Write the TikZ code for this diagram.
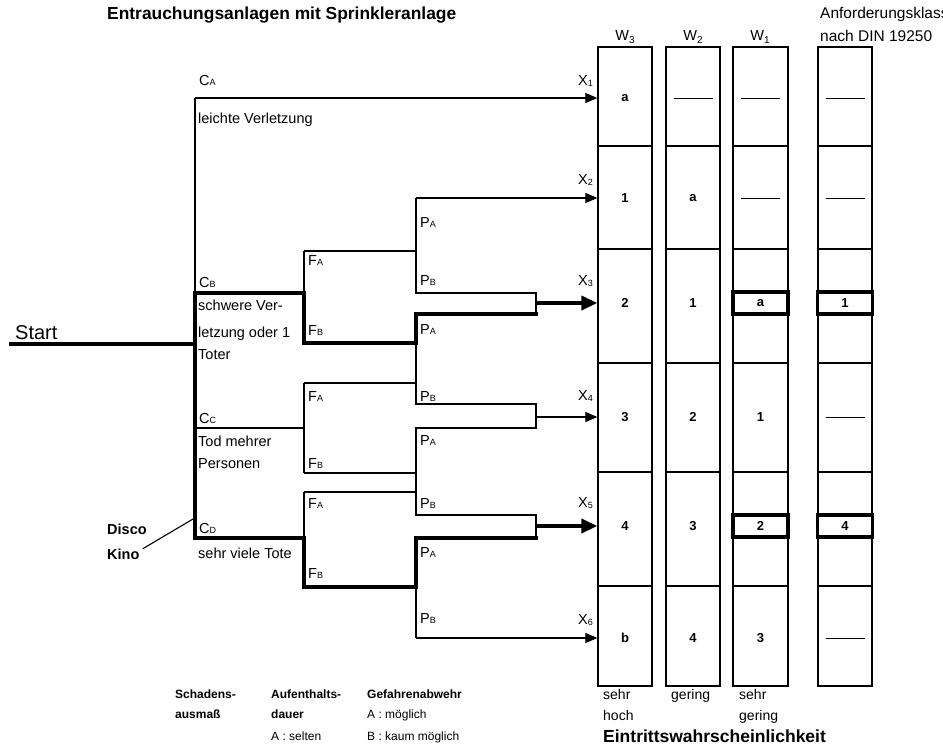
\documentclass[tikz,border=0pt]{standalone}
\usepackage{fontspec}
\setmainfont{Liberation Sans}
\usetikzlibrary{arrows.meta, calc}

\newcommand{\ix}[1]{{\fontsize{9}{9}\selectfont #1}}
\newcommand{\dx}[1]{\raisebox{-1.5pt}{\fontsize{9}{9}\selectfont #1}}
\newcommand{\wx}[1]{\raisebox{-3pt}{\fontsize{10}{10}\selectfont #1}}
\newcommand{\nix}{\rule{39pt}{1pt}}

\tikzset{
  lbl/.style={anchor=base west, inner sep=0pt, font=\fontsize{14.5}{17}\selectfont},
  bl/.style={anchor=base west, inner sep=0pt, font=\fontsize{12}{14}\selectfont\bfseries},
  sm/.style={anchor=base west, inner sep=0pt, font=\fontsize{12}{14}\selectfont},
  val/.style={inner sep=0pt, font=\fontsize{13}{15}\selectfont\bfseries},
  hl/.style={draw, line width=3.4pt, inner sep=0pt, minimum width=55pt, minimum height=22pt,
    font=\fontsize{13}{15}\selectfont\bfseries},
  frame/.style={draw, line width=1.3pt, inner sep=0pt, minimum width=54pt, minimum height=639pt},
  ln/.style={line width=1.1pt},
  fat/.style={line width=3.6pt, line cap=rect},
  tip/.style={ln, -{Triangle[length=12pt,width=10pt]}},
  fattip/.style={line width=3.6pt, -{Triangle[length=16pt,width=14pt]}},
}

\begin{document}
\begin{tikzpicture}[x=1pt, y=-1pt]
\useasboundingbox (0,0) rectangle (943,748);
\fill[white] (0,0) rectangle (943,748);

% columns W3 W2 W1 and Anforderungsklasse
\node[frame] (w3) at (625,366.5) {};
\node[frame] (w2) at (693,366.5) {};
\node[frame, minimum width=55pt] (w1) at (760.5,366.5) {};
\node[frame] (ak) at (845,366.5) {};
\foreach \y in {146,249,363,472,586}
  \foreach \c in {w3,w2,w1,ak}
    \draw[ln] (\c.west |- 0,\y) -- (\c.east |- 0,\y);

\foreach \y/\a/\b/\c/\d/\s [count=\r] in {98/a/\nix/\nix/\nix/val, 198/1/a/\nix/\nix/val,
    303/2/1/a/1/hl, 417/3/2/1/\nix/val, 526/4/3/2/4/hl, 638/b/4/3/\nix/val} {
  \node[val] (v\r-3) at (625,\y) {\a};
  \node[val] (v\r-2) at (693,\y) {\b};
  \node[\s] (v\r-1) at (760.5,\y) {\c};
  \node[\s] (v\r-k) at (845,\y) {\d};
}

\node[lbl, anchor=base] (hw3) at (625,40) {W\wx{3}};
\node[lbl, anchor=base] (hw2) at (693,40) {W\wx{2}};
\node[lbl, anchor=base] (hw1) at (760,40) {W\wx{1}};
\node[lbl, font=\fontsize{15.5}{18}\selectfont] (hak1) at (820,18) {Anforderungsklasse};
\node[lbl, font=\fontsize{15.5}{18}\selectfont] (hak2) at (820,41) {nach DIN 19250};

% branch points of the tree
\coordinate (start) at (11,344);
\coordinate (root) at (195,344);
\coordinate (cA) at (195,98);
\coordinate (cB) at (195,293);
\coordinate (cC) at (195,428);
\coordinate (cD) at (195,538);
\coordinate (fA1) at (304,251);
\coordinate (fB1) at (304,343);
\coordinate (fA2) at (304,383);
\coordinate (fB2) at (304,473);
\coordinate (fA3) at (304,492);
\coordinate (fB3) at (304,587);
\coordinate (pA1) at (416,198);
\coordinate (pB1) at (416,293);
\coordinate (pA2) at (416,314);
\coordinate (pB2) at (416,404);
\coordinate (pA3) at (416,428);
\coordinate (pB3) at (416,515);
\coordinate (pA4) at (416,538);
\coordinate (pB4) at (416,638);
\coordinate (j3) at (536,303);
\coordinate (j4) at (536,417);
\coordinate (j5) at (536,526);
\coordinate (ptr) at (193,519);

\draw[fat] (start) -- (root);
\draw[ln] (cA) -- (cB);
\draw[tip] (cA) -- (cA -| w3.west);
\draw[ln] (fA1) -- (fA1 |- cB);
\draw[ln] (fA1) -- (fA1 -| pA1);
\draw[ln] (pA1) -- (pB1) -| (j3) -- (j3 |- pA2);
\draw[tip] (pA1) -- (pA1 -| w3.west);
\draw[ln] (pA2 |- fB1) -- (pB2) -| (j4) -- (j4 |- pA3) -- (pA3) -- (pB3) -| (j5) -- (j5 |- pA4);
\draw[ln] (cC) -- (cC -| fA2);
\draw[ln] (fA2) -- (fB2);
\draw[ln] (fA2) -- (fA2 -| pA1);
\draw[ln] (fB2) -- (fB2 -| pA1);
\draw[ln] (fA3) -- (fA3 |- cD);
\draw[ln] (fA3) -- (fA3 -| pA1);
\draw[ln] (pB4 |- fB3) -- (pB4);
\draw[fat] (pA2 -| j3) -- (pA2) |- (fB1) |- (cB) -- (cD) -| (fB3) -| (pA4) -- (pA4 -| j5);
\draw[fattip] (j3) -- (j3 -| w3.west);
\draw[tip] (j4) -- (j4 -| w3.west);
\draw[fattip] (j5) -- (j5 -| w3.west);
\draw[tip] (pB4) -- (pB4 -| w3.west);

% labels
\node[lbl, font=\fontsize{17.4}{20}\selectfont\bfseries] (title) at (107,19) {Entrauchungsanlagen mit Sprinkleranlage};
\node[lbl, font=\fontsize{20}{24}\selectfont] (st) at (15,339) {Start};
\node[lbl] (ca) at (199,85) {C\ix{A}};
\node[lbl] (cal) at (198,123) {leichte Verletzung};
\node[lbl] (cb) at (199,287) {C\ix{B}};
\node[lbl] (cbl1) at (198,310) {schwere Ver-};
\node[lbl] (cbl2) at (198,337) {letzung oder 1};
\node[lbl] (cbl3) at (198,359) {Toter};
\node[lbl] (cc) at (199,423) {C\ix{C}};
\node[lbl] (ccl1) at (198,446) {Tod mehrer};
\node[lbl] (ccl2) at (198,468) {Personen};
\node[lbl] (cd) at (199,533) {C\ix{D}};
\node[lbl] (cdl) at (198,558) {sehr viele Tote};
\node[lbl, font=\fontsize{14.5}{17}\selectfont\bfseries] (disco) at (107,534) {Disco};
\node[lbl, font=\fontsize{14.5}{17}\selectfont\bfseries] (kino) at (107,559) {Kino};
\draw[ln] ([shift={(3,-5)}]kino.east) -- (ptr);

\node[lbl] (la1) at (308,265) {F\ix{A}};
\node[lbl] (lb1) at (308,335) {F\ix{B}};
\node[lbl] (la2) at (308,401) {F\ix{A}};
\node[lbl] (lb2) at (308,468) {F\ix{B}};
\node[lbl] (la3) at (308,508) {F\ix{A}};
\node[lbl] (lb3) at (308,578) {F\ix{B}};

\node[lbl] (qa1) at (420,227) {P\ix{A}};
\node[lbl] (qb1) at (420,285) {P\ix{B}};
\node[lbl] (qa2) at (420,334) {P\ix{A}};
\node[lbl] (qb2) at (420,401) {P\ix{B}};
\node[lbl] (qa3) at (420,445) {P\ix{A}};
\node[lbl] (qb3) at (420,508) {P\ix{B}};
\node[lbl] (qa4) at (420,557) {P\ix{A}};
\node[lbl] (qb4) at (420,623) {P\ix{B}};

\node[lbl] (x1) at (578,85) {X\dx{1}};
\node[lbl] (x2) at (578,184) {X\dx{2}};
\node[lbl] (x3) at (578,285) {X\dx{3}};
\node[lbl] (x4) at (578,400) {X\dx{4}};
\node[lbl] (x5) at (578,507) {X\dx{5}};
\node[lbl] (x6) at (578,624) {X\dx{6}};

% bottom legend
\node[bl] (sch1) at (175,698) {Schadens-};
\node[bl] (sch2) at (175,718) {ausmaß};
\node[bl] (auf1) at (271,698) {Aufenthalts-};
\node[bl] (auf2) at (271,718) {dauer};
\node[sm] (auf3) at (271,740) {A : selten};
\node[bl] (gef1) at (367,698) {Gefahrenabwehr};
\node[sm] (gef2) at (367,718) {A : möglich};
\node[sm] (gef3) at (367,740) {B : kaum möglich};
\node[lbl, font=\fontsize{14}{16}\selectfont] (sh1) at (603,699) {sehr};
\node[lbl, font=\fontsize{14}{16}\selectfont] (sh2) at (603,720) {hoch};
\node[lbl, font=\fontsize{14}{16}\selectfont] (ger) at (671,699) {gering};
\node[lbl, font=\fontsize{14}{16}\selectfont] (sg1) at (739,699) {sehr};
\node[lbl, font=\fontsize{14}{16}\selectfont] (sg2) at (739,720) {gering};
\node[lbl, font=\fontsize{17.5}{20}\selectfont\bfseries] (ewk) at (603,742) {Eintrittswahrscheinlichkeit};
\end{tikzpicture}
\end{document}
